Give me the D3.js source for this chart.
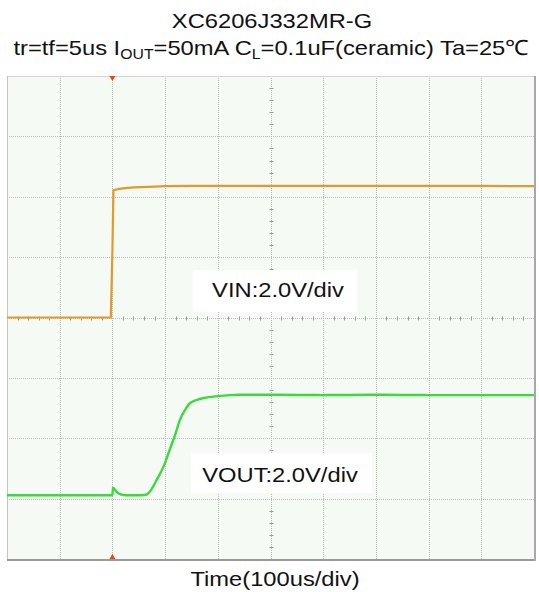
<!DOCTYPE html>
<html>
<head>
<meta charset="utf-8">
<script src="https://cdn.jsdelivr.net/npm/d3@7"></script>
<style>
  html, body { margin: 0; padding: 0; background: #ffffff; }
  svg { display: block; }
  text { font-family: Arial, "Liberation Sans", Helvetica, sans-serif; fill: #111; }
</style>
</head>
<body>
<svg id="chart" width="539" height="592"></svg>
<script>
// ---------------- DATA ----------------
const chartTitle = "XC6206J332MR-G";
const xLabel = "Time(100us/div)";
const vinLabel = "VIN:2.0V/div";
const voutLabel = "VOUT:2.0V/div";

// time axis: 100 us/div, 10 divisions, trigger at 2nd division
const timeDomainUs = [-200, 800];
const voltsPerDiv = 2.0;

// VIN trace (time in us, volts)
const vinTime = [-200, -100, -3, 0, 2, 10, 20, 40, 70, 100, 150, 200, 300, 400, 500, 600, 700, 800];
const vinVolts = [0, 0, 0, 2.2, 4.22, 4.25, 4.28, 4.31, 4.33, 4.35, 4.36, 4.36, 4.36, 4.36, 4.36, 4.36, 4.36, 4.35];

// VOUT trace (time in us, volts)
const voutTime = [-200, -100, 0, 1, 5, 10, 18, 25, 40, 62, 71, 84, 97, 109, 119, 128, 138, 147, 166, 191, 223, 242, 300, 400, 500, 600, 700, 800];
const voutVolts = [0, 0, 0, 0.25, 0.18, 0.08, 0.02, 0, 0, 0.01, 0.12, 0.51, 0.95, 1.52, 2.0, 2.49, 2.83, 3.05, 3.19, 3.27, 3.32, 3.33, 3.33, 3.32, 3.33, 3.32, 3.32, 3.32];

// channel ground positions (in divisions from bottom)
const vinZeroDiv = 4.0;
const voutZeroDiv = 1.055;

// ---------------- LAYOUT ----------------
const svg = d3.select("#chart");
const L = 7, R = 534, T = 76, B = 559;
const nX = 10, nY = 8;
const sx = 1.13; // horizontal stretch of the text in the reference

const x = d3.scaleLinear().domain(timeDomainUs).range([L, R]);
const yDiv = d3.scaleLinear().domain([0, nY]).range([B, T]);
const yVin = d3.scaleLinear()
  .domain([-vinZeroDiv * voltsPerDiv, (nY - vinZeroDiv) * voltsPerDiv]).range([B, T]);
const yVout = d3.scaleLinear()
  .domain([-voutZeroDiv * voltsPerDiv, (nY - voutZeroDiv) * voltsPerDiv]).range([B, T]);

// ---------------- TITLES ----------------
function stretchedText(g, cx, y, size) {
  return g.append("text")
    .attr("transform", `translate(${cx},${y}) scale(${sx},1)`)
    .attr("text-anchor", "middle")
    .attr("font-size", size);
}
stretchedText(svg, 272, 28, 21).text(chartTitle);

const sub = stretchedText(svg, 271, 55, 21);
sub.append("tspan").text("tr=tf=5us I");
sub.append("tspan").attr("font-size", 14).attr("dy", 4).text("OUT");
sub.append("tspan").attr("dy", -4).text("=50mA C");
sub.append("tspan").attr("font-size", 14).attr("dy", 4).text("L");
sub.append("tspan").attr("dy", -4).text("=0.1uF(ceramic) Ta=25℃");

// ---------------- PLOT AREA ----------------
svg.append("rect")
  .attr("x", L).attr("y", T).attr("width", R - L).attr("height", B - T)
  .attr("fill", "#f5faf5");

const grid = svg.append("g").attr("stroke", "#b8b8b8").attr("stroke-width", 1)
  .attr("stroke-dasharray", "1,1");
const xDivTicks = d3.range(1, nX).map(i => timeDomainUs[0] + i * 100);
grid.selectAll(".vg").data(xDivTicks).join("line")
  .attr("x1", d => Math.round(x(d)) + 0.5).attr("x2", d => Math.round(x(d)) + 0.5)
  .attr("y1", T).attr("y2", B);
grid.selectAll(".hg").data(d3.range(1, nY)).join("line")
  .attr("y1", d => Math.round(yDiv(d)) + 0.5).attr("y2", d => Math.round(yDiv(d)) + 0.5)
  .attr("x1", L).attr("x2", R);

// minor ticks on centre lines
const minor = svg.append("g").attr("stroke", "#999").attr("stroke-width", 1);
const xMinor = d3.range(0, nX * 5 + 1).map(i => timeDomainUs[0] + i * 20).filter((d, i) => i % 5 !== 0);
const yc = Math.round(yDiv(nY / 2)) + 0.5;
minor.selectAll(".mx").data(xMinor).join("line")
  .attr("x1", d => Math.round(x(d)) + 0.5).attr("x2", d => Math.round(x(d)) + 0.5)
  .attr("y1", yc - 2).attr("y2", yc + 2);
const yMinor = d3.range(0, nY * 5 + 1).map(i => i / 5).filter((d, i) => i % 5 !== 0);
const xc = Math.round(x((timeDomainUs[0] + timeDomainUs[1]) / 2)) + 0.5;
minor.selectAll(".my").data(yMinor).join("line")
  .attr("y1", d => Math.round(yDiv(d)) + 0.5).attr("y2", d => Math.round(yDiv(d)) + 0.5)
  .attr("x1", xc - 2).attr("x2", xc + 2);

// border
svg.append("line").attr("x1", L).attr("x2", R).attr("y1", T + 0.5).attr("y2", T + 0.5)
  .attr("stroke", "#d4d4d4").attr("stroke-width", 1);
svg.append("line").attr("x1", L + 0.5).attr("x2", L + 0.5).attr("y1", T).attr("y2", B)
  .attr("stroke", "#c4c4c4").attr("stroke-width", 1);
svg.append("line").attr("x1", L).attr("x2", R + 1).attr("y1", B + 1).attr("y2", B + 1)
  .attr("stroke", "#9a9a9a").attr("stroke-width", 2);
svg.append("line").attr("x1", R + 1).attr("x2", R + 1).attr("y1", T).attr("y2", B + 2)
  .attr("stroke", "#a8a8a8").attr("stroke-width", 2);

// ---------------- TRACES ----------------
const vinData = vinTime.map((t, i) => [t, vinVolts[i]]);
const voutData = voutTime.map((t, i) => [t, voutVolts[i]]);

svg.append("path").datum(vinData)
  .attr("fill", "none").attr("stroke", "#e39a2c").attr("stroke-width", 2.2)
  .attr("stroke-linejoin", "round")
  .attr("d", d3.line().x(d => x(d[0])).y(d => yVin(d[1])));

svg.append("path").datum(voutData)
  .attr("fill", "none").attr("stroke", "#3ada3a").attr("stroke-width", 2.4)
  .attr("stroke-linejoin", "round")
  .attr("d", d3.line().curve(d3.curveMonotoneX).x(d => x(d[0])).y(d => yVout(d[1])));

// trigger markers
const xt = x(0);
svg.append("path").attr("d", `M${xt - 3},${T} L${xt + 3},${T} L${xt},${T + 5} Z`).attr("fill", "#ff3a10");
svg.append("path").attr("d", `M${xt - 3},${B} L${xt + 3},${B} L${xt},${B - 5} Z`).attr("fill", "#ff3a10");

// ---------------- CHANNEL LABELS ----------------
function labelBox(text, cx, baseline, box) {
  svg.append("rect").attr("x", box[0]).attr("y", box[1])
    .attr("width", box[2] - box[0]).attr("height", box[3] - box[1]).attr("fill", "#ffffff");
  stretchedText(svg, cx, baseline, 21).text(text);
}
labelBox(vinLabel, 278, 297, [193, 270, 357, 312]);
labelBox(voutLabel, 280, 482, [191, 453, 372, 493]);

// x label
stretchedText(svg, 275, 586, 21).text(xLabel);
</script>
</body>
</html>
